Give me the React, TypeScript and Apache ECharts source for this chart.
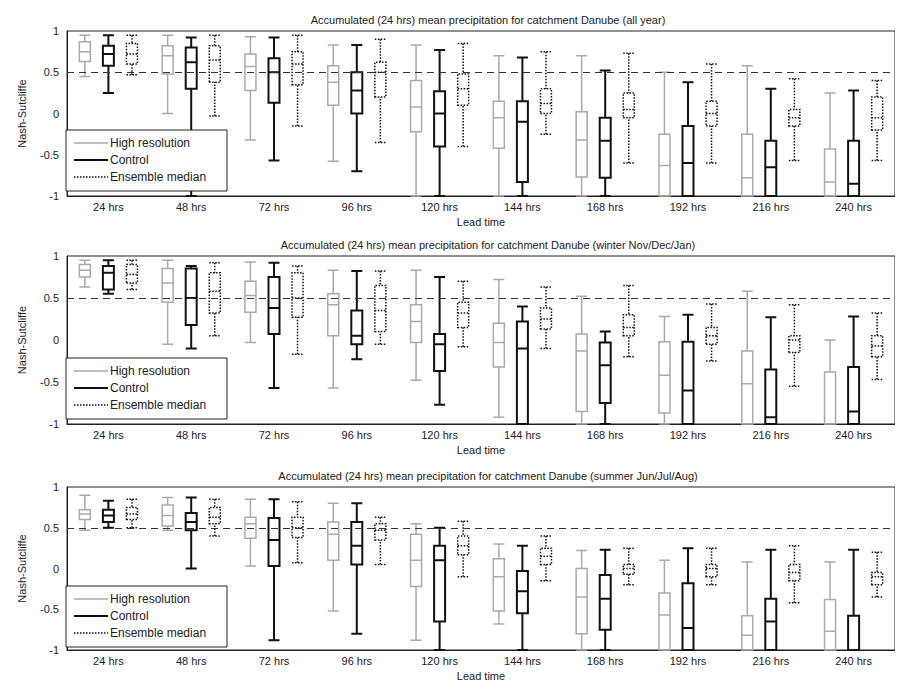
import React, { useEffect, useRef } from 'react';
import * as echarts from 'echarts';

const leadTimes = ['24 hrs', '48 hrs', '72 hrs', '96 hrs', '120 hrs', '144 hrs', '168 hrs', '192 hrs', '216 hrs', '240 hrs'];
const seriesNames = ['High resolution', 'Control', 'Ensemble median'];
const panelTitles = [
  'Accumulated (24 hrs) mean precipitation for catchment Danube (all year)',
  'Accumulated (24 hrs) mean precipitation for catchment Danube (winter Nov/Dec/Jan)',
  'Accumulated (24 hrs) mean precipitation for catchment Danube (summer Jun/Jul/Aug)',
];

// [min, q1, median, q3, max]
const allYearHigh = [[0.45,0.63,0.75,0.87,0.95],[0,0.48,0.7,0.82,0.95],[-0.32,0.28,0.57,0.72,0.93],[-0.58,0.1,0.38,0.58,0.83],[-1,-0.22,0.08,0.4,0.83],[-1,-0.42,-0.05,0.15,0.7],[-1,-0.77,-0.32,0.02,0.7],[-1,-1,-0.63,-0.25,0.5],[-1,-1,-0.78,-0.25,0.58],[-1,-1,-0.83,-0.43,0.25]];
const allYearControl = [[0.25,0.58,0.72,0.82,0.95],[-1,0.3,0.62,0.8,0.92],[-0.57,0.13,0.5,0.67,0.92],[-0.7,0,0.28,0.5,0.83],[-1,-0.4,0,0.27,0.77],[-1,-0.83,-0.1,0.15,0.68],[-1,-0.78,-0.33,-0.05,0.52],[-1,-1,-0.6,-0.15,0.38],[-1,-1,-0.65,-0.33,0.3],[-1,-1,-0.85,-0.33,0.28]];
const allYearEnsemble = [[0.47,0.6,0.72,0.85,0.95],[-0.03,0.38,0.65,0.82,0.95],[-0.15,0.35,0.6,0.75,0.95],[-0.35,0.2,0.5,0.62,0.9],[-0.4,0.1,0.3,0.48,0.85],[-0.25,0,0.12,0.3,0.75],[-0.6,-0.05,0.05,0.25,0.73],[-0.6,-0.15,0,0.15,0.6],[-0.57,-0.15,-0.05,0.05,0.42],[-0.57,-0.2,-0.05,0.2,0.4]];

const winterHigh = [[0.63,0.75,0.83,0.9,0.95],[-0.05,0.45,0.68,0.85,0.95],[-0.03,0.33,0.53,0.7,0.93],[-0.57,0.05,0.42,0.55,0.83],[-0.48,-0.03,0.22,0.42,0.83],[-0.92,-0.32,-0.03,0.2,0.72],[-1,-0.85,-0.13,0.07,0.52],[-1,-0.87,-0.42,-0.02,0.28],[-1,-1,-0.52,-0.13,0.58],[-1,-1,-1,-0.38,0]];
const winterControl = [[0.55,0.6,0.8,0.88,0.95],[-0.1,0.18,0.5,0.85,0.88],[-0.57,0.07,0.38,0.75,0.92],[-0.23,-0.05,0.05,0.35,0.82],[-0.77,-0.37,-0.05,0.07,0.75],[-1,-1,-0.1,0.22,0.4],[-1,-0.75,-0.3,-0.03,0.1],[-1,-1,-0.6,-0.02,0.3],[-1,-1,-0.92,-0.35,0.27],[-1,-1,-0.85,-0.32,0.28]];
const winterEnsemble = [[0.6,0.68,0.78,0.9,0.95],[0.05,0.32,0.58,0.8,0.92],[-0.17,0.27,0.5,0.8,0.88],[-0.05,0.1,0.35,0.65,0.82],[-0.08,0.15,0.32,0.45,0.7],[-0.1,0.13,0.25,0.38,0.63],[-0.2,0.05,0.15,0.3,0.65],[-0.25,-0.05,0.05,0.15,0.43],[-0.55,-0.15,0,0.05,0.42],[-0.47,-0.2,-0.07,0.05,0.32]];

const summerHigh = [[0.47,0.6,0.67,0.72,0.9],[0.47,0.52,0.65,0.78,0.87],[0.03,0.37,0.55,0.63,0.85],[-0.52,0.1,0.42,0.57,0.8],[-0.88,-0.22,0.1,0.42,0.55],[-0.68,-0.52,-0.1,0.12,0.3],[-1,-0.8,-0.35,0,0.22],[-1,-1,-0.57,-0.3,0.1],[-1,-1,-0.82,-0.58,0.08],[-1,-1,-0.77,-0.38,0.08]];
const summerControl = [[0.5,0.57,0.65,0.72,0.83],[0,0.47,0.57,0.68,0.87],[-0.88,0.03,0.35,0.62,0.85],[-0.8,0.05,0.28,0.57,0.8],[-1,-0.65,0.1,0.28,0.5],[-1,-0.55,-0.28,-0.03,0.28],[-1,-0.75,-0.37,-0.08,0.23],[-1,-1,-0.73,-0.18,0.25],[-1,-1,-0.65,-0.37,0.23],[-1,-1,-1,-0.58,0.23]];
const summerEnsemble = [[0.5,0.6,0.67,0.75,0.85],[0.4,0.55,0.63,0.75,0.85],[0.07,0.38,0.5,0.63,0.82],[0.05,0.35,0.47,0.55,0.63],[-0.1,0.17,0.28,0.4,0.58],[-0.15,0.05,0.15,0.25,0.4],[-0.2,-0.07,0,0.05,0.25],[-0.2,-0.1,0,0.05,0.25],[-0.42,-0.15,-0.05,0.05,0.28],[-0.35,-0.2,-0.1,-0.05,0.2]];

const yTickLabels: Record<string, string> = { '1': '1', '0.5': '0.5', '0': '0', '-0.5': '-0.5', '-1': '-1' };

// positions in chart coordinates (page minus 8px body margin)
const panels = [
  { top: 23, bottom: 188, data: [allYearHigh, allYearControl, allYearEnsemble] },
  { top: 248, bottom: 416, data: [winterHigh, winterControl, winterEnsemble] },
  { top: 479, bottom: 644, data: [summerHigh, summerControl, summerEnsemble] },
];

const styles = [
  { color: '#aaaaaa', width: 1.5, type: 'solid' },
  { color: '#111111', width: 2, type: 'solid' },
  { color: '#111111', width: 1.5, type: 'dotted' },
];

const font = 'Liberation Sans, Arial, sans-serif';

const App: React.FC = () => {
  const chartRef = useRef<HTMLDivElement>(null);

  useEffect(() => {
    if (!chartRef.current) return;
    const chart = echarts.init(chartRef.current, undefined, { renderer: 'svg' });

    const grids: any[] = [];
    const xAxes: any[] = [];
    const yAxes: any[] = [];
    const series: any[] = [];
    const graphics: any[] = [];

    panels.forEach((p, i) => {
      grids.push({
        left: 53, right: 0, top: p.top, height: p.bottom - p.top,
        show: true, borderColor: '#222', borderWidth: 1, backgroundColor: 'transparent',
      });
      xAxes.push({
        type: 'category', gridIndex: i, data: leadTimes, boundaryGap: true,
        name: 'Lead time', nameLocation: 'middle', nameGap: 20,
        nameTextStyle: { fontSize: 11, color: '#222', fontFamily: font },
        axisLine: { onZero: false, lineStyle: { color: '#222' } },
        axisTick: { inside: true, alignWithLabel: true, length: 5, lineStyle: { color: '#222' } },
        axisLabel: { fontSize: 11, color: '#222', fontFamily: font, margin: 5 },
        splitLine: { show: false },
      });
      yAxes.push({
        type: 'value', gridIndex: i, min: -1, max: 1, interval: 0.5,
        name: 'Nash-Sutcliffe', nameLocation: 'middle', nameGap: 40,
        nameTextStyle: { fontSize: 11, color: '#222', fontFamily: font },
        axisLine: { show: true, lineStyle: { color: '#222' } },
        axisTick: { inside: true, length: 5, lineStyle: { color: '#222' } },
        axisLabel: { fontSize: 11, color: '#222', fontFamily: font, formatter: (v: number) => yTickLabels[String(v)] ?? String(v) },
        splitLine: { show: false },
      });
      p.data.forEach((d, s) => {
        series.push({
          type: 'boxplot', name: seriesNames[s], xAxisIndex: i, yAxisIndex: i,
          data: d, boxWidth: [11, 11],
          itemStyle: { color: 'transparent', borderColor: styles[s].color, borderWidth: styles[s].width, borderType: styles[s].type },
          emphasis: { disabled: true },
          markLine: s === 0 ? {
            silent: true, symbol: 'none', label: { show: false },
            lineStyle: { color: '#333', type: [7, 5], width: 1 },
            data: [{ yAxis: 0.5 }],
          } : undefined,
        });
      });
      graphics.push({
        type: 'text', x: 480, y: p.top - 17,
        style: { text: panelTitles[i], fill: '#222', font: `11px ${font}`, align: 'center' },
      });
      const bx = 58, by = p.bottom - 66;
      graphics.push({
        type: 'rect', shape: { x: bx, y: by, width: 161, height: 61 },
        style: { fill: '#fff', stroke: '#222', lineWidth: 1 }, z: 10,
      });
      seriesNames.forEach((n, s) => {
        const ly = by + 13 + s * 17;
        graphics.push({
          type: 'line', shape: { x1: bx + 8, y1: ly, x2: bx + 42, y2: ly }, z: 11,
          style: { stroke: styles[s].color, lineWidth: styles[s].width, lineDash: styles[s].type === 'dotted' ? [1.5, 1.5] : null },
        });
        graphics.push({
          type: 'text', x: bx + 44, y: ly, z: 11,
          style: { text: n, fill: '#222', font: `12px ${font}`, verticalAlign: 'middle' },
        });
      });
    });

    chart.setOption({
      animation: false,
      backgroundColor: '#fff',
      grid: grids, xAxis: xAxes, yAxis: yAxes, series, graphic: graphics,
    });
    return () => chart.dispose();
  }, []);

  return <div ref={chartRef} style={{ width: 887, height: 674 }} />;
};

export default App;
